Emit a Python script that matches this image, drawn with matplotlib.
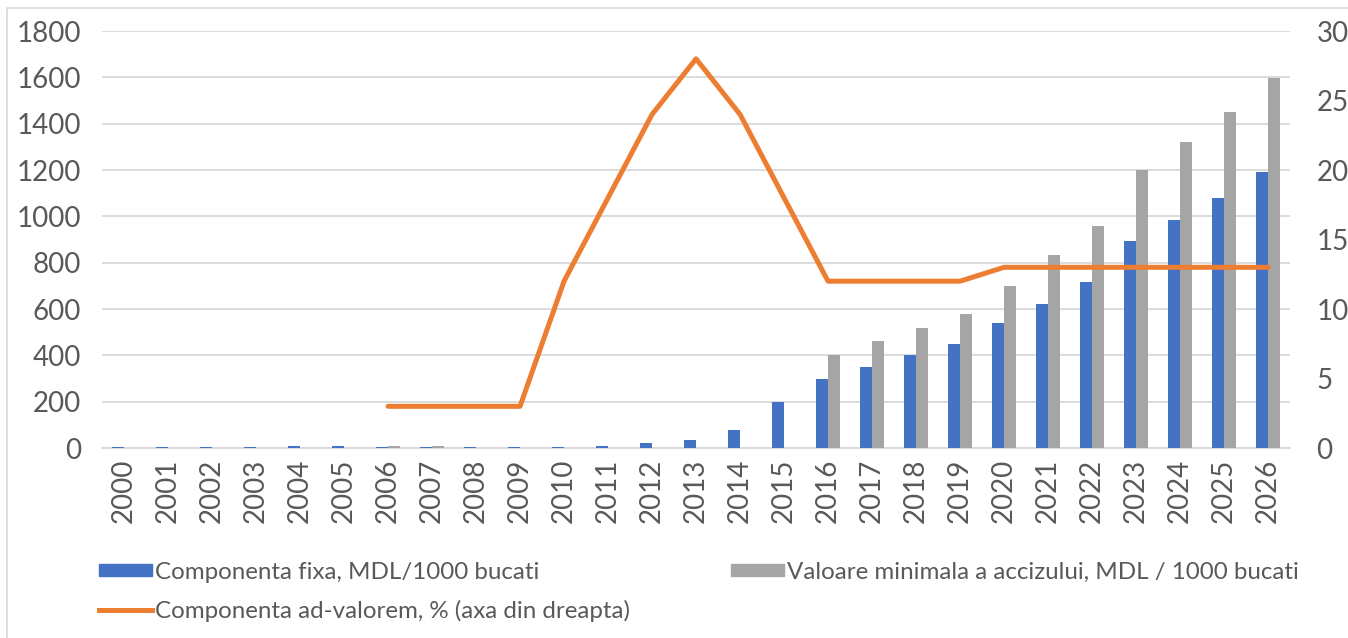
import numpy as np
import matplotlib.pyplot as plt
from matplotlib.patches import Patch, Rectangle
from matplotlib.lines import Line2D

plt.rcParams['font.family'] = ['Lato', 'DejaVu Sans']

# ani
years = [str(y) for y in range(2000, 2027)]

# componenta fixa, MDL/1000 bucati
fixa = [4, 6, 6, 6, 9, 9, 6, 6, 5, 5, 5, 10, 21, 36, 76, 200,
        300, 350, 400, 450, 540, 620, 715, 895, 985, 1080, 1190]

# valoare minimala a accizului
minim = [0, 0, 0, 0, 0, 0, 8, 8, 0, 0, 0, 0, 0, 0, 0, 0,
         400, 460, 520, 580, 700, 835, 960, 1200, 1320, 1450, 1595]

# componenta ad-valorem, % (de la 2006)
ad_val = [None] * 6 + [3, 3, 3, 3, 12, 18, 24, 28, 24, 18,
                       12, 12, 12, 12, 13, 13, 13, 13, 13, 13, 13]

BLUE = '#4472C4'
GREY = '#A5A5A5'
ORANGE = '#ED7D31'
TXT = '#595959'

fig = plt.figure(figsize=(13.48, 6.38), dpi=100)
ax = fig.add_axes([0.0757, 0.2978, 0.957 - 0.0757, 0.9514 - 0.2978])

x = np.arange(len(years))
w = 0.28
ax.bar(x - w / 2, fixa, w, color=BLUE, zorder=3)
ax.bar(x + w / 2, minim, w, color=GREY, zorder=3)

ax.set_xlim(-0.5, len(years) - 0.5)
ax.set_ylim(0, 1800)
ax.set_yticks(range(0, 1801, 200))
ax.set_xticks(x)
ax.set_xticklabels(years, rotation=90)
ax.grid(axis='y', color='#d9d9d9', linewidth=1.3, zorder=0)
for s in ['top', 'right', 'left']:
    ax.spines[s].set_visible(False)
ax.spines['bottom'].set_color('#d9d9d9')
ax.spines['bottom'].set_linewidth(1.3)
ax.tick_params(axis='y', length=0, labelsize=20, labelcolor=TXT, pad=15)
ax.tick_params(axis='x', length=0, labelsize=20, labelcolor=TXT, pad=8)

# axa din dreapta (%)
ax2 = ax.twinx()
yv = np.array([np.nan if v is None else v for v in ad_val], dtype=float)
ax2.plot(x, yv, color=ORANGE, linewidth=3.6, solid_capstyle='round', zorder=4)
ax2.set_ylim(0, 30)
ax2.set_yticks(range(0, 31, 5))
for s in ax2.spines.values():
    s.set_visible(False)
ax2.tick_params(length=0, labelsize=20, labelcolor=TXT, pad=19)

handles = [Patch(color=BLUE), Line2D([], [], color=ORANGE, linewidth=3.6),
           Patch(color=GREY)]
labels = ['Componenta fixa, MDL/1000 bucati',
          'Componenta ad-valorem, % (axa din dreapta)',
          'Valoare minimala a accizului, MDL / 1000 bucati']
leg = fig.legend(handles, labels, ncol=2, loc='upper left',
                 bbox_to_anchor=(0.066, 0.135), frameon=False,
                 fontsize=17.4, handlelength=2.2, handleheight=0.4,
                 handletextpad=0.12, columnspacing=4.2, labelspacing=0.7,
                 borderaxespad=0)
for t in leg.get_texts():
    t.set_color(TXT)

fig.patches.append(Rectangle((0.005, -0.01), 1.0, 0.998, transform=fig.transFigure,
                             fill=False, edgecolor='#d9d9d9', linewidth=1.2))

fig.savefig('out.png', dpi=100)
